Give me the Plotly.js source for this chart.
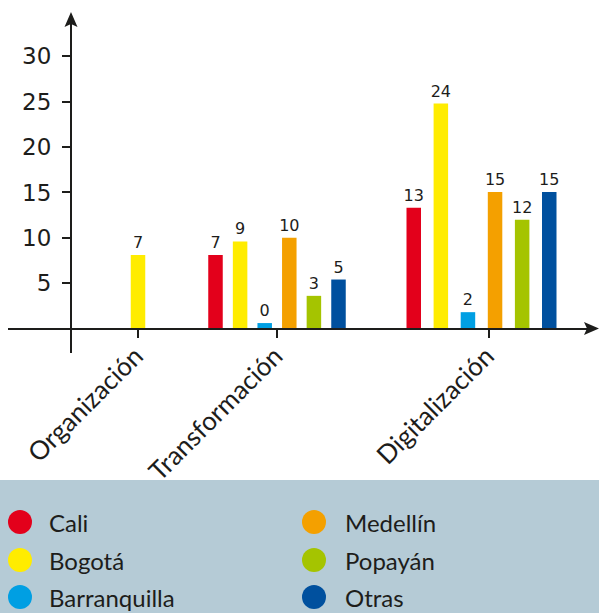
<!DOCTYPE html>
<html><head><meta charset="utf-8">
<script src="https://cdn.plot.ly/plotly-3.0.1.min.js"></script>
<style>html,body{margin:0;padding:0;background:#fff}#chart{width:599px;height:613px}</style>
</head><body><div id="chart"></div>
<script>
// ---- data ----
const categories = ['Organización', 'Transformación', 'Digitalización'];
const series = ['Cali', 'Bogotá', 'Barranquilla', 'Medellín', 'Popayán', 'Otras'];
// bar heights as drawn
const cali         = [null, 8.1, 13.3];
const bogota       = [8.1, 9.6, 24.8];
const barranquilla = [null, 0.6, 1.8];
const medellin     = [null, 10.0, 15.05];
const popayan      = [null, 3.6, 12.0];
const otras        = [null, 5.4, 15.05];
// printed value labels
const caliLabels         = [null, '7', '13'];
const bogotaLabels       = ['7', '9', '24'];
const barranquillaLabels = [null, '0', '2'];
const medellinLabels     = [null, '10', '15'];
const popayanLabels      = [null, '3', '12'];
const otrasLabels        = [null, '5', '15'];
const yTicks = [5, 10, 15, 20, 25, 30];

// ---- styling / layout constants ----
const W = 599, H = 613;
const FONT = 'Lato, "Open Sans", sans-serif';
const NUMFONT = '"DejaVu Sans", Verdana, sans-serif';
const INK = '#1d1d1b';
const colors = ['#e3001b', '#ffec00', '#009fe3', '#f4a000', '#a5c400', '#00509e'];
const groupCenters = [138, 277, 481.5];
const groupSpacing = [25, 24.6, 27.1];
const tickPositions = [137.5, 277, 488.5];
const barWidth = 14.5;

const values = [cali, bogota, barranquilla, medellin, popayan, otras];
const labels = [caliLabels, bogotaLabels, barranquillaLabels, medellinLabels, popayanLabels, otrasLabels];

// positions: present bars centred in each group
const pos = values.map(() => []);
categories.forEach((c, i) => {
  const present = values.map((v, k) => v[i] != null ? k : -1).filter(k => k >= 0);
  const n = present.length;
  present.forEach((k, j) => {
    pos[k][i] = groupCenters[i] + (j - (n - 1) / 2) * groupSpacing[i];
  });
});

const traces = series.map((name, k) => {
  const xs = [], ys = [], ts = [];
  categories.forEach((c, i) => {
    if (values[k][i] != null) { xs.push(pos[k][i]); ys.push(values[k][i]); ts.push(labels[k][i]); }
  });
  return {
    type: 'bar', name: name, x: xs, y: ys, width: barWidth,
    marker: {color: colors[k], line: {width: 0}},
    text: ts, textposition: 'outside', constraintext: 'none', cliponaxis: false,
    textfont: {family: NUMFONT, size: 16, color: INK},
    showlegend: false, hoverinfo: 'skip'
  };
});

const px = (x, y) => (x / W).toFixed(5) + ',' + (1 - y / H).toFixed(5);
const y0px = 328.5;

const shapes = [
  {type: 'rect', xref: 'paper', yref: 'paper', x0: 0, x1: 1, y0: 0, y1: 1 - 480 / H,
   fillcolor: '#b5cbd6', line: {width: 0}, layer: 'below'},
  // arrowheads
  {type: 'path', xref: 'paper', yref: 'paper',
   path: 'M' + px(71, 12) + 'L' + px(77.5, 27) + 'L' + px(71, 24) + 'L' + px(64.5, 27) + 'Z',
   fillcolor: INK, line: {width: 0}},
  {type: 'path', xref: 'paper', yref: 'paper',
   path: 'M' + px(599, y0px) + 'L' + px(584, y0px - 6.5) + 'L' + px(587, y0px) + 'L' + px(584, y0px + 6.5) + 'Z',
   fillcolor: INK, line: {width: 0}}
];
const annotations = [];
const legendCols = [[20, 47], [314, 343]];
const legendRows = [522, 560, 597];
series.forEach((name, k) => {
  const col = legendCols[Math.floor(k / 3)], row = legendRows[k % 3];
  const r = 12;
  shapes.push({type: 'circle', xref: 'paper', yref: 'paper',
    x0: (col[0] - r) / W, x1: (col[0] + r) / W, y0: 1 - (row + r) / H, y1: 1 - (row - r) / H,
    fillcolor: colors[k], line: {width: 0}});
  annotations.push({xref: 'paper', yref: 'paper', x: col[1] / W, y: 1 - row / H,
    xanchor: 'left', yanchor: 'middle', showarrow: false, text: name,
    font: {family: FONT, size: 24, color: INK}});
});

const layout = {
  width: W, height: H, margin: {l: 0, r: 0, t: 0, b: 0},
  paper_bgcolor: '#ffffff', plot_bgcolor: 'rgba(0,0,0,0)',
  barmode: 'overlay', showlegend: false,
  font: {family: FONT, color: INK},
  xaxis: {
    range: [8, 590], domain: [8 / W, 590 / W], anchor: 'free', position: 1 - y0px / H,
    showline: true, linewidth: 2.2, linecolor: INK, zeroline: false, showgrid: false,
    tickmode: 'array', tickvals: tickPositions, ticktext: categories,
    ticks: 'outside', ticklen: 8, tickwidth: 2, tickcolor: INK, tickangle: -45,
    ticklabelstandoff: -7, ticklabelshift: -2,
    tickfont: {family: FONT, size: 26, color: INK}, fixedrange: true
  },
  yaxis: {
    range: [-(353 - y0px) / 9.07, (y0px - 20) / 9.07], domain: [1 - 353 / H, 1 - 20 / H],
    anchor: 'free', position: 71 / W,
    showline: true, linewidth: 2.2, linecolor: INK, zeroline: false, showgrid: false,
    tickmode: 'array', tickvals: yTicks, ticks: 'outside', ticklen: 8, tickwidth: 2, tickcolor: INK,
    ticklabelstandoff: 6,
    tickfont: {family: NUMFONT, size: 23, color: INK}, fixedrange: true
  },
  shapes: shapes, annotations: annotations
};

Plotly.newPlot('chart', traces, layout, {displayModeBar: false, staticPlot: true});
</script></body></html>
